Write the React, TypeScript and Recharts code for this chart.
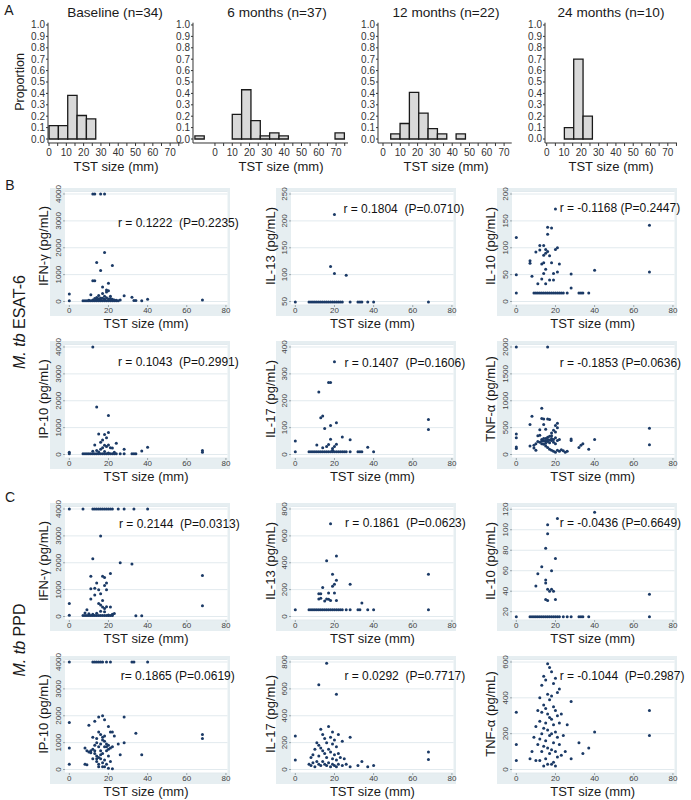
import React from "react";
import {
  ComposedChart,
  ScatterChart,
  Scatter,
  XAxis,
  YAxis,
  CartesianGrid,
  ReferenceArea,
} from "recharts";

const FONT = "Arial, 'Liberation Sans', Helvetica, sans-serif";
const DOT_COLOR = "#1b3a66";
const PANEL_BG = "#e6eef1";
const GRID_COLOR = "#e2eaee";
const BAR_FILL = "#d9d9d9";

// ---------- A: TST size histograms ----------
const BIN_WIDTH = 5.4; // mm
const MM_PX = 1.73; // px per mm on the histogram axes

const baselineStarts = [0, 5.4, 10.8, 16.2, 21.6];
const baselineProps = [0.118, 0.118, 0.382, 0.206, 0.176];

const sixMonthStarts = [-11.6, 10.0, 15.4, 20.8, 26.2, 31.6, 37.0, 69.4];
const sixMonthProps = [0.027, 0.216, 0.432, 0.162, 0.027, 0.054, 0.027, 0.054];

const twelveMonthStarts = [4.45, 9.85, 15.25, 20.65, 26.05, 31.45, 42.25];
const twelveMonthProps = [0.045, 0.136, 0.409, 0.227, 0.091, 0.045, 0.045];

const twentyFourStarts = [10.2, 15.6, 21.0];
const twentyFourProps = [0.1, 0.7, 0.2];

const propTicks = [0, 0.1, 0.2, 0.3, 0.4, 0.5, 0.6, 0.7, 0.8, 0.9, 1.0];
const mmTicks = [0, 5, 10, 15, 20, 25, 30, 35, 40, 45, 50, 55, 60, 65, 70, 75];

const histPanels = [
  { title: "Baseline (n=34)", starts: baselineStarts, props: baselineProps, left: 48.3, lo: -0.6, hi: 77.3, titleX: 115, labelX: 116 },
  { title: "6 months (n=37)", starts: sixMonthStarts, props: sixMonthProps, left: 193, lo: -12.7, hi: 76.9, titleX: 277, labelX: 281 },
  { title: "12 months (n=22)", starts: twelveMonthStarts, props: twelveMonthProps, left: 378.3, lo: -2.9, hi: 74.4, titleX: 446, labelX: 446 },
  { title: "24 months (n=10)", starts: twentyFourStarts, props: twentyFourProps, left: 545, lo: -1, hi: 75.3, titleX: 611, labelX: 611 },
];

// ---------- B: M. tb ESAT-6 ----------
const esatIfng: [number, number][] = [
  [0, 280], [0, 30],
  [12, 4000], [13, 4000], [16, 4000], [18, 4000],
  [18, 1820], [14, 1450], [22, 1340], [16, 1150], [12, 770], [13, 770], [20, 680], [17, 540], [19, 430], [20, 400],
  [11, 250], [15, 220], [17, 300], [18, 200], [19, 350], [21, 200], [28, 210], [32, 160], [40, 80], [68, 60],
  [13, 110], [14, 150], [16, 130], [22, 80], [23, 60], [24, 50], [26, 60], [33, 40], [34, 40], [37, 30],
  [10, 50], [12, 60], [14, 70], [16, 60], [18, 80], [20, 90], [15, 100], [17, 120], [19, 140], [21, 110],
  [7, 30], [8, 30], [9, 30], [10, 30], [11, 30], [12, 30], [13, 30], [14, 30], [15, 30], [16, 30], [17, 30],
  [18, 30], [19, 30], [20, 30], [21, 30], [22, 30], [23, 30], [24, 30], [25, 30],
];

const esatIl13: [number, number][] = [
  [0, 49], [20, 212], [18, 115], [20, 102], [26, 99],
  [7, 49], [8, 49], [9, 49], [10, 49], [11, 49], [12, 49], [13, 49], [14, 49], [15, 49], [16, 49], [17, 49],
  [18, 49], [19, 49], [20, 49], [21, 49], [22, 49], [23, 49], [24, 49],
  [28, 49], [32, 49], [33, 49], [34, 49], [37, 49], [40, 49], [68, 49],
];

const esatIl10: [number, number][] = [
  [0, 119], [0, 50], [0, 16],
  [7, 76], [7, 71], [8, 47], [10, 92], [11, 33], [12, 104], [12, 96], [13, 42], [13, 70], [14, 104], [14, 86], [14, 72], [14, 52],
  [15, 97], [15, 90], [15, 60], [15, 33], [16, 138], [16, 125], [16, 93], [17, 85], [17, 40], [18, 137], [18, 72], [19, 40], [19, 52],
  [20, 172], [20, 97], [21, 100], [21, 55], [22, 70], [28, 51], [28, 25], [40, 58], [68, 142], [68, 55],
  [9, 16], [10, 16], [11, 16], [12, 16], [13, 16], [14, 16], [15, 16], [16, 16], [17, 16], [18, 16], [19, 16],
  [20, 16], [21, 16], [22, 16], [23, 16], [24, 16], [26, 16], [32, 16], [33, 16], [34, 16], [37, 16],
];

const esatIp10: [number, number][] = [
  [0, 80], [0, 30], [12, 4000], [14, 1770], [20, 1450], [15, 760], [18, 740], [20, 820], [19, 620], [17, 540],
  [13, 350], [16, 460], [18, 340], [19, 300], [20, 350], [24, 420], [21, 250], [28, 200], [40, 270], [37, 130],
  [12, 120], [14, 150], [16, 200], [17, 250], [22, 240], [15, 90], [18, 110], [20, 60], [23, 80],
  [68, 150], [68, 80], [32, 30], [33, 30], [34, 30], [26, 30], [28, 30],
  [7, 30], [8, 30], [9, 30], [10, 30], [11, 30], [12, 30], [13, 30], [14, 30], [15, 30], [16, 30], [17, 30],
  [18, 30], [19, 30], [20, 30], [21, 30], [22, 30], [23, 30], [24, 30],
];

const esatIl17: [number, number][] = [
  [0, 50], [0, 10], [20, 345], [17, 268], [18, 268], [12, 233], [13, 137], [14, 143], [15, 97], [21, 118],
  [18, 108], [18, 57], [24, 65], [28, 55],
  [11, 35], [14, 25], [16, 30], [17, 37], [19, 22], [20, 30], [21, 38], [19, 15], [37, 27], [40, 10], [68, 130], [68, 93],
  [7, 10], [8, 10], [9, 10], [10, 10], [11, 10], [12, 10], [13, 10], [14, 10], [15, 10], [16, 10], [17, 10],
  [18, 10], [19, 10], [20, 10], [21, 10], [22, 10], [23, 10], [24, 10], [25, 10], [26, 10], [28, 10],
  [32, 10], [33, 10], [34, 10],
];

const esatTnfa: [number, number][] = [
  [0, 2000], [16, 2000], [0, 380], [0, 310], [0, 140], [0, 110],
  [13, 860], [8, 710], [7, 560], [13, 670], [14, 660], [16, 660], [17, 650], [14, 560], [12, 460], [15, 470],
  [21, 580], [20, 540], [21, 500], [19, 450], [18, 400], [20, 420],
  [7, 160], [9, 170], [10, 80], [11, 350], [12, 360], [13, 200], [14, 250], [15, 300], [16, 280], [17, 220],
  [18, 300], [19, 230], [20, 310], [21, 260], [22, 280],
  [12, 230], [13, 280], [14, 190], [15, 160], [16, 130], [17, 100], [18, 80], [19, 60], [20, 40], [21, 80],
  [22, 60], [23, 90], [24, 70], [25, 40], [26, 60],
  [15, 250], [16, 240], [17, 270], [18, 260], [13, 250], [14, 300], [16, 320], [17, 340], [18, 350], [19, 280],
  [20, 200], [15, 210], [11, 240], [10, 200], [9, 120],
  [28, 290], [28, 260], [32, 130], [33, 170], [34, 200], [37, 100], [40, 280], [68, 490], [68, 180],
];

// ---------- C: M. tb PPD ----------
const ppdIfng: [number, number][] = [
  [0, 4000], [7, 4000], [12, 4000], [13, 4000], [14, 4000], [15, 4000], [16, 4000], [17, 4000], [18, 4000],
  [19, 4000], [20, 4000], [21, 4000], [22, 4000], [25, 4000], [28, 4000], [33, 4000], [40, 4000],
  [16, 3000], [12, 2150], [26, 2000], [32, 1950], [21, 1600], [11, 1500], [17, 1500], [18, 1450], [14, 1250],
  [19, 1250], [18, 1150], [13, 1050], [11, 1030], [15, 1000], [19, 1000], [16, 850], [13, 800], [11, 650],
  [17, 600], [15, 480], [16, 430], [17, 350], [18, 300], [19, 360], [21, 350],
  [9, 250], [8, 130], [10, 100], [12, 80], [14, 120], [16, 200], [18, 180], [20, 60], [22, 80], [23, 110],
  [0, 480], [0, 50], [34, 30], [37, 30], [68, 1530], [68, 400],
  [7, 40], [8, 40], [9, 40], [10, 40], [11, 40], [12, 40], [13, 40], [14, 40], [15, 40], [16, 40], [17, 40],
  [18, 40], [19, 40], [20, 40], [21, 40], [22, 40],
];

const ppdIl13: [number, number][] = [
  [18, 690], [21, 450], [16, 415], [19, 315], [20, 240], [19, 225], [21, 270], [14, 215], [12, 170], [13, 170],
  [17, 175], [20, 175], [12, 130], [13, 135], [16, 130], [17, 128], [18, 120], [15, 115], [21, 120], [28, 240],
  [34, 100], [68, 315], [68, 50], [0, 50],
  [7, 50], [8, 50], [9, 50], [10, 50], [11, 50], [12, 50], [13, 50], [14, 50], [15, 50], [16, 50], [17, 50],
  [18, 50], [19, 50], [20, 50], [21, 50], [22, 50], [23, 50], [24, 50], [26, 50], [28, 50], [32, 50], [33, 50],
  [37, 50], [40, 50],
];

const ppdIl10: [number, number][] = [
  [21, 111], [40, 117], [16, 105], [16, 96], [15, 82], [20, 72], [13, 64], [18, 60], [11, 57], [15, 51], [15, 48],
  [10, 45], [16, 42], [17, 40], [18, 42], [19, 40], [15, 32], [16, 31], [20, 32], [68, 37], [68, 15], [0, 15],
  [7, 15], [8, 15], [9, 15], [10, 15], [11, 15], [12, 15], [13, 15], [14, 15], [15, 15], [16, 15], [17, 15],
  [18, 15], [19, 15], [20, 15], [21, 15], [22, 15], [24, 15], [26, 15], [28, 15], [32, 15], [33, 15], [34, 15],
  [37, 15],
];

const ppdIp10: [number, number][] = [
  [0, 4000], [12, 4000], [13, 4000], [14, 4000], [15, 4000], [16, 4000], [17, 4000], [19, 4000], [21, 4000],
  [32, 4000], [33, 4000], [40, 4000],
  [0, 1750], [0, 800], [0, 200],
  [17, 2000], [15, 1950], [28, 1950], [13, 1800], [18, 1850], [10, 1650], [20, 1600], [21, 1400], [22, 1400],
  [15, 1400], [16, 1300], [23, 1250], [34, 1350], [68, 1300], [68, 1150],
  [12, 1200], [14, 1150], [17, 1200], [18, 1050], [19, 950], [20, 900], [21, 800], [22, 850], [25, 950], [28, 1000],
  [8, 800], [9, 700], [10, 650], [11, 700], [12, 750], [13, 600], [14, 500], [15, 450], [16, 700], [17, 600],
  [18, 850], [19, 700], [20, 500], [26, 550], [37, 550],
  [14, 300], [15, 200], [16, 400], [17, 250], [18, 100], [19, 200], [20, 50], [21, 300], [22, 30], [15, 100],
  [14, 400], [12, 400], [8, 200], [9, 180], [13, 900], [14, 1000], [15, 850], [16, 950], [17, 1100], [18, 1250],
  [19, 850], [11, 620], [13, 700], [16, 550], [20, 750], [17, 100], [18, 350],
];

const ppdIl17: [number, number][] = [
  [16, 790], [12, 630], [21, 560], [0, 250], [0, 70], [68, 130], [68, 75],
  [13, 300], [17, 320], [19, 280], [14, 260], [15, 230], [18, 240], [20, 220], [22, 260], [11, 200], [12, 180],
  [16, 200], [19, 190], [21, 170], [24, 210], [28, 240],
  [10, 150], [13, 160], [14, 140], [15, 120], [17, 150], [18, 130], [20, 110], [22, 120], [23, 90], [9, 110],
  [8, 90], [12, 100], [16, 90], [19, 80], [21, 70], [25, 80],
  [7, 40], [8, 30], [9, 50], [10, 20], [11, 60], [12, 40], [13, 30], [14, 60], [15, 40], [16, 30], [17, 50],
  [18, 20], [19, 40], [20, 30], [21, 20], [22, 40], [24, 30], [26, 40], [28, 20], [32, 30], [34, 60], [37, 20],
  [40, 30],
];

const ppdTnfa: [number, number][] = [
  [16, 590], [17, 570], [18, 545], [14, 520], [20, 510], [15, 500], [19, 480], [13, 470], [22, 450], [21, 430],
  [16, 420], [12, 400], [18, 410], [28, 380], [17, 390],
  [14, 360], [15, 340], [19, 350], [20, 330], [11, 330], [13, 320], [16, 310], [21, 300], [23, 310], [17, 290],
  [18, 280], [12, 270], [22, 260], [26, 250], [15, 260], [19, 250], [10, 240],
  [14, 230], [16, 220], [20, 210], [13, 200], [17, 190], [18, 200], [21, 180], [24, 190], [9, 180], [12, 170],
  [15, 160], [19, 150], [22, 140], [11, 140], [14, 130], [16, 120], [18, 110], [20, 100], [13, 100], [17, 90],
  [23, 80], [21, 70], [15, 60], [12, 50], [19, 40], [16, 30], [8, 100], [7, 60], [10, 50], [14, 20], [18, 30],
  [20, 20],
  [0, 320], [0, 140], [0, 50], [68, 330], [68, 190], [40, 210], [37, 120], [32, 150], [34, 90], [25, 100], [28, 60],
];

const tstTicks = [0, 20, 40, 60, 80];

// panel grid (light blue box corners)
const colLefts = [50, 276.4, 496.7];
const rowTops = [188, 340.6, 503, 656.3];

const scatterPanels = [
  { row: 0, col: 0, points: esatIfng, yLabel: "IFN-γ (pg/mL)", ticks: [0, 1000, 2000, 3000, 4000], domain: [-130, 4093], note: "r = 0.1222  (P=0.2235)", nx: 68, ny: 35 },
  { row: 0, col: 1, points: esatIl13, yLabel: "IL-13 (pg/mL)", ticks: [50, 100, 150, 200, 250], domain: [43.5, 254.7], note: "r = 0.1804  (P=0.0710)", nx: 67, ny: 21 },
  { row: 0, col: 2, points: esatIl10, yLabel: "IL-10 (pg/mL)", ticks: [0, 50, 100, 150, 200], domain: [-6.5, 204.7], note: "r = -0.1168 (P=0.2447)", nx: 63, ny: 20 },
  { row: 1, col: 0, points: esatIp10, yLabel: "IP-10 (pg/mL)", ticks: [0, 1000, 2000, 3000, 4000], domain: [-130, 4093], note: "r = 0.1043  (P=0.2991)", nx: 68, ny: 21 },
  { row: 1, col: 1, points: esatIl17, yLabel: "IL-17 (pg/mL)", ticks: [0, 100, 200, 300, 400], domain: [-13, 409.3], note: "r = 0.1407  (P=0.1606)", nx: 68, ny: 22 },
  { row: 1, col: 2, points: esatTnfa, yLabel: "TNF-α (pg/mL)", ticks: [0, 500, 1000, 1500, 2000], domain: [-65, 2046.5], note: "r = -0.1853 (P=0.0636)", nx: 63, ny: 22 },
  { row: 2, col: 0, points: ppdIfng, yLabel: "IFN-γ (pg/mL)", ticks: [0, 1000, 2000, 3000, 4000], domain: [-130, 4093], note: "r = 0.2144  (P=0.0313)", nx: 69, ny: 21 },
  { row: 2, col: 1, points: ppdIl13, yLabel: "IL-13 (pg/mL)", ticks: [0, 200, 400, 600, 800], domain: [-26, 818.6], note: "r = 0.1861  (P=0.0623)", nx: 68.6, ny: 20 },
  { row: 2, col: 2, points: ppdIl10, yLabel: "IL-10 (pg/mL)", ticks: [20, 40, 60, 80, 100, 120], domain: [11.9, 122.7], note: "r = -0.0436 (P=0.6649)", nx: 63, ny: 20 },
  { row: 3, col: 0, points: ppdIp10, yLabel: "IP-10 (pg/mL)", ticks: [0, 1000, 2000, 3000, 4000], domain: [-130, 4093], note: "r= 0.1865 (P=0.0619)", nx: 70.7, ny: 20 },
  { row: 3, col: 1, points: ppdIl17, yLabel: "IL-17 (pg/mL)", ticks: [0, 200, 400, 600, 800], domain: [-26, 818.6], note: "r = 0.0292  (P=0.7717)", nx: 68, ny: 20 },
  { row: 3, col: 2, points: ppdTnfa, yLabel: "TNF-α (pg/mL)", ticks: [0, 200, 400, 600], domain: [-19.5, 614], note: "r = -0.1044  (P=0.2987)", nx: 63, ny: 20 },
];

const HistYTick = (props: any) => {
  const { x, y, payload } = props;
  return (
    <text x={x} y={y} dy="0.35em" textAnchor="end" fontSize={10} fill="#333" fontFamily={FONT}>
      {Number(payload.value).toFixed(1)}
    </text>
  );
};

const HistXTick = (props: any) => {
  const { x, y, payload } = props;
  if (payload.value % 10 !== 0) return <g />;
  return (
    <text x={x} y={y + 10.5} textAnchor="middle" fontSize={10} fill="#333" fontFamily={FONT}>
      {payload.value}
    </text>
  );
};

const PanelYTick = (props: any) => {
  const { x, y, payload } = props;
  return (
    <text x={x} y={y} transform={`rotate(-90 ${x} ${y})`} textAnchor="middle" fontSize={8} fill="#444" fontFamily={FONT}>
      {payload.value}
    </text>
  );
};

const PanelXTick = (props: any) => {
  const { x, y, payload } = props;
  return (
    <text x={x} y={y + 6} textAnchor="middle" fontSize={8} fill="#444" fontFamily={FONT}>
      {payload.value}
    </text>
  );
};

const DotShape = (props: any) => <circle cx={props.cx} cy={props.cy} r={1.5} fill={DOT_COLOR} />;

function Label({ x, y, text, size, rotate, children }: any) {
  return (
    <div
      style={{
        position: "absolute",
        left: x,
        top: y,
        transform: `translate(-50%, -50%)${rotate ? " rotate(-90deg)" : ""}`,
        fontSize: size,
        fontFamily: FONT,
        color: "#1a1a1a",
        whiteSpace: "pre",
        lineHeight: 1,
      }}
    >
      {children ?? text}
    </div>
  );
}

function Histogram({ cfg }: any) {
  const plotW = (cfg.hi - cfg.lo) * MM_PX;
  const data = cfg.starts.map((s: number, i: number) => ({ x: s + BIN_WIDTH / 2, y: cfg.props[i] }));
  const ticks = mmTicks.filter((t) => t >= cfg.lo && t <= cfg.hi);
  return (
    <>
      <div style={{ position: "absolute", left: cfg.left - 40, top: 0 }}>
        <ComposedChart width={plotW + 45} height={170} data={data} margin={{ top: 22.7, right: 5, left: 0, bottom: 0 }}>
          <XAxis
            type="number"
            dataKey="x"
            domain={[cfg.lo, cfg.hi]}
            ticks={ticks}
            interval={0}
            height={27}
            tickSize={3}
            tickMargin={0}
            stroke="#333"
            tick={<HistXTick />}
          />
          <YAxis
            type="number"
            dataKey="y"
            domain={[-0.035, 1.02]}
            ticks={propTicks}
            interval={0}
            width={40}
            tickSize={2}
            tickMargin={1}
            stroke="#333"
            tick={<HistYTick />}
          />
          {cfg.starts.map((s: number, i: number) => (
            <ReferenceArea
              key={i}
              x1={s}
              x2={s + BIN_WIDTH}
              y1={0}
              y2={cfg.props[i]}
              fill={BAR_FILL}
              fillOpacity={1}
              stroke="#1a1a1a"
              strokeWidth={1.3}
            />
          ))}
          <Scatter dataKey="y" isAnimationActive={false} shape={() => <g />} />
        </ComposedChart>
      </div>
      <Label x={cfg.titleX} y={13} size={13.6} text={cfg.title} />
      <Label x={cfg.labelX} y={166} size={13} text="TST size (mm)" />
    </>
  );
}

function ScatterPanel({ p }: any) {
  const left = colLefts[p.col];
  const top = rowTops[p.row];
  const data = p.points.map(([x, y]: [number, number]) => ({ x, y }));
  return (
    <>
      <div style={{ position: "absolute", left, top, width: 180, height: 128, background: PANEL_BG }} />
      <div style={{ position: "absolute", left: left - 30, top: top - 10 }}>
        <ScatterChart width={212} height={160} margin={{ top: 13.5, right: 4.5, left: 0, bottom: 0 }}>
          <CartesianGrid vertical={false} stroke={GRID_COLOR} fill="#ffffff" fillOpacity={1} />
          <XAxis
            type="number"
            dataKey="x"
            domain={[-2.2, 80.8]}
            ticks={tstTicks}
            interval={0}
            height={33}
            axisLine={false}
            tickSize={2}
            tickMargin={0}
            tickLine={{ stroke: "#9aa5ab" }}
            tick={<PanelXTick />}
          />
          <YAxis
            type="number"
            dataKey="y"
            domain={p.domain}
            ticks={p.ticks}
            interval={0}
            width={45}
            axisLine={false}
            tickSize={2}
            tickMargin={2}
            tickLine={{ stroke: "#9aa5ab" }}
            tick={<PanelYTick />}
          />
          <Scatter data={data} isAnimationActive={false} shape={<DotShape />} />
        </ScatterChart>
      </div>
      <Label x={left - 6.7} y={top + 58} size={13} rotate text={p.yLabel} />
      <Label x={left + 96} y={top + 135} size={13} text="TST size (mm)" />
      <div
        style={{
          position: "absolute",
          left: left + p.nx,
          top: top + p.ny,
          transform: "translateY(-50%)",
          fontSize: 12,
          fontFamily: FONT,
          color: "#111",
          whiteSpace: "pre",
          lineHeight: 1,
        }}
      >
        {p.note}
      </div>
    </>
  );
}

export default function App() {
  return (
    <div style={{ position: "absolute", left: 0, top: 0, width: 691, height: 800, background: "#fff", overflow: "hidden" }}>
      <Label x={9} y={10} size={14} text="A" />
      <Label x={10} y={185} size={14} text="B" />
      <Label x={10} y={497} size={14} text="C" />
      <Label x={20} y={82} size={12.5} rotate text="Proportion" />
      {histPanels.map((cfg, i) => (
        <Histogram key={i} cfg={cfg} />
      ))}
      <Label x={20} y={322} size={16} rotate>
        <i>M. tb</i> ESAT-6
      </Label>
      <Label x={20} y={640} size={16} rotate>
        <i>M. tb</i> PPD
      </Label>
      {scatterPanels.map((p, i) => (
        <ScatterPanel key={i} p={p} />
      ))}
    </div>
  );
}
